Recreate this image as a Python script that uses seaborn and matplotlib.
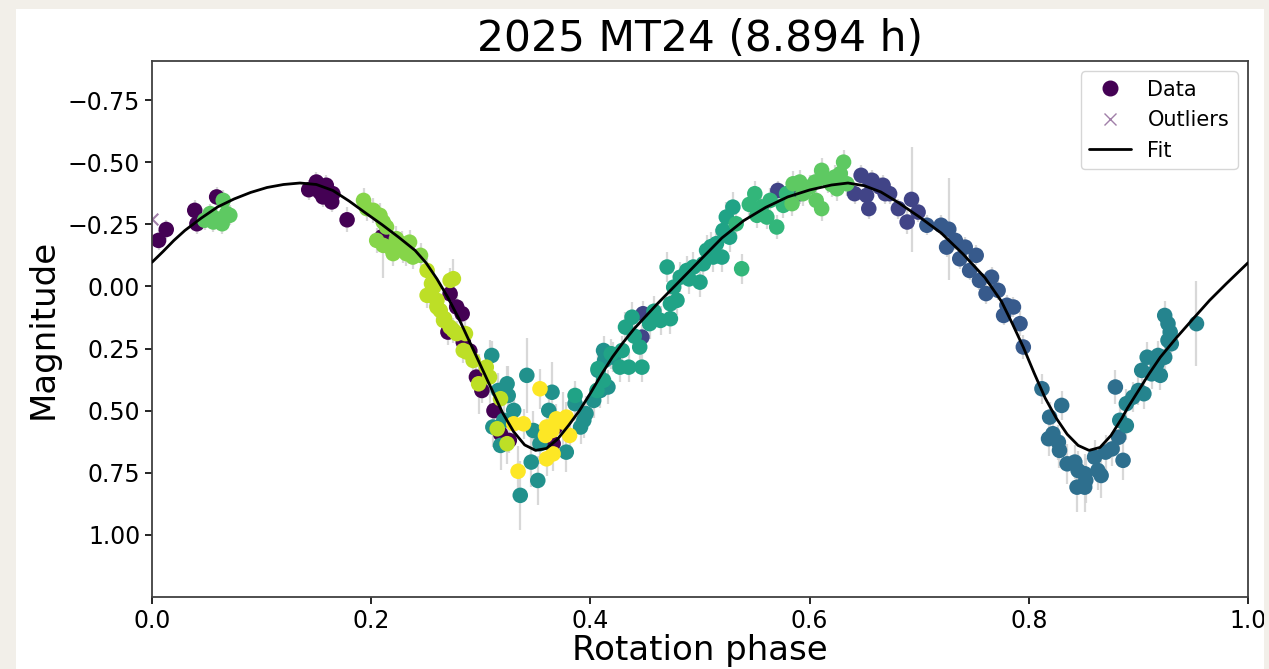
import numpy as np
import pandas as pd
import matplotlib
matplotlib.use("Agg")
import matplotlib.pyplot as plt
import seaborn as sns
from matplotlib.lines import Line2D
from matplotlib.patches import Rectangle

TITLE = "2025 MT24 (8.894 h)"
X_LABEL = "Rotation phase"
Y_LABEL = "Magnitude"
X_TICKS = [0.0, 0.2, 0.4, 0.6, 0.8, 1.0]
Y_TICKS = [-0.75, -0.50, -0.25, 0.00, 0.25, 0.50, 0.75, 1.00]

# (phase, magnitude, error) per observing session
night_a = [(0.006, -0.185, 0.04), (0.013, -0.229, 0.04), (0.039, -0.306, 0.04), (0.041, -0.252, 0.04),
           (0.059, -0.36, 0.04), (0.143, -0.389, 0.04), (0.150, -0.42, 0.04), (0.153, -0.38, 0.04),
           (0.156, -0.36, 0.04), (0.159, -0.407, 0.04), (0.164, -0.34, 0.04), (0.165, -0.373, 0.04),
           (0.178, -0.268, 0.05), (0.210, -0.20, 0.05), (0.270, 0.184, 0.05), (0.272, 0.03, 0.05),
           (0.278, 0.083, 0.05), (0.283, 0.11, 0.05), (0.284, 0.224, 0.05), (0.290, 0.26, 0.05),
           (0.296, 0.365, 0.05), (0.301, 0.419, 0.05), (0.312, 0.50, 0.05), (0.318, 0.593, 0.05),
           (0.326, 0.62, 0.05), (0.366, 0.633, 0.05), (0.368, 0.566, 0.05)]
night_b = [(0.447, 0.204, 0.05), (0.448, 0.11, 0.05), (0.571, -0.386, 0.04), (0.591, -0.373, 0.04),
           (0.641, -0.373, 0.04), (0.647, -0.447, 0.04), (0.652, -0.366, 0.04), (0.654, -0.313, 0.04),
           (0.655, -0.42, 0.04), (0.657, -0.427, 0.04), (0.664, -0.40, 0.04), (0.667, -0.407, 0.04),
           (0.669, -0.373, 0.04), (0.673, -0.373, 0.04), (0.681, -0.313, 0.04), (0.689, -0.259, 0.05),
           (0.693, -0.350, 0.21), (0.699, -0.299, 0.04)]
night_c = [(0.707, -0.246, 0.04), (0.720, -0.246, 0.04), (0.725, -0.158, 0.04), (0.727, -0.23, 0.205),
           (0.733, -0.185, 0.04), (0.737, -0.111, 0.04), (0.742, -0.158, 0.04), (0.746, -0.064, 0.04),
           (0.752, -0.125, 0.04), (0.755, -0.024, 0.04), (0.761, 0.029, 0.04), (0.766, -0.037, 0.04),
           (0.772, 0.016, 0.04), (0.777, 0.117, 0.04), (0.780, 0.076, 0.04), (0.786, 0.083, 0.04),
           (0.792, 0.150, 0.05), (0.795, 0.244, 0.05)]
night_d = [(0.812, 0.412, 0.06), (0.818, 0.613, 0.07), (0.819, 0.526, 0.06), (0.822, 0.593, 0.07),
           (0.827, 0.627, 0.07), (0.828, 0.66, 0.07), (0.830, 0.479, 0.06), (0.835, 0.714, 0.08),
           (0.842, 0.707, 0.07), (0.844, 0.808, 0.10), (0.845, 0.741, 0.08), (0.851, 0.754, 0.08),
           (0.851, 0.808, 0.10), (0.852, 0.781, 0.09), (0.860, 0.687, 0.07), (0.863, 0.741, 0.08),
           (0.866, 0.761, 0.09), (0.870, 0.667, 0.07), (0.876, 0.654, 0.07), (0.879, 0.405, 0.07),
           (0.882, 0.607, 0.06), (0.886, 0.70, 0.08)]
night_e = [(0.883, 0.539, 0.06), (0.889, 0.56, 0.06), (0.889, 0.472, 0.06), (0.895, 0.446, 0.06),
           (0.900, 0.419, 0.06), (0.903, 0.338, 0.06), (0.905, 0.432, 0.06), (0.908, 0.285, 0.06),
           (0.912, 0.352, 0.06), (0.917, 0.311, 0.06), (0.918, 0.278, 0.06), (0.920, 0.358, 0.06),
           (0.924, 0.285, 0.06), (0.924, 0.117, 0.06), (0.927, 0.217, 0.06), (0.927, 0.15, 0.06),
           (0.929, 0.184, 0.06), (0.930, 0.231, 0.06), (0.953, 0.15, 0.17)]
night_f = [(0.310, 0.278, 0.06), (0.311, 0.566, 0.08), (0.316, 0.419, 0.07), (0.318, 0.64, 0.10),
           (0.321, 0.539, 0.07), (0.324, 0.392, 0.07), (0.325, 0.439, 0.12), (0.330, 0.499, 0.08),
           (0.336, 0.841, 0.14), (0.342, 0.358, 0.15), (0.346, 0.707, 0.10), (0.348, 0.58, 0.08),
           (0.352, 0.781, 0.10), (0.354, 0.633, 0.08), (0.362, 0.499, 0.08), (0.365, 0.426, 0.12),
           (0.378, 0.667, 0.08), (0.386, 0.472, 0.07), (0.391, 0.566, 0.07), (0.394, 0.539, 0.07),
           (0.396, 0.512, 0.07), (0.403, 0.459, 0.07), (0.407, 0.338, 0.06), (0.409, 0.419, 0.07),
           (0.412, 0.258, 0.06), (0.413, 0.298, 0.06), (0.416, 0.405, 0.07), (0.421, 0.285, 0.06)]
night_g = [(0.386, 0.439, 0.06), (0.406, 0.419, 0.06), (0.407, 0.331, 0.06), (0.412, 0.378, 0.06),
           (0.419, 0.271, 0.06), (0.427, 0.325, 0.06), (0.429, 0.258, 0.06), (0.432, 0.164, 0.06),
           (0.435, 0.325, 0.06), (0.438, 0.124, 0.06), (0.440, 0.20, 0.06), (0.445, 0.244, 0.06),
           (0.447, 0.325, 0.06), (0.454, 0.15, 0.06), (0.458, 0.10, 0.06), (0.464, 0.137, 0.06),
           (0.470, -0.078, 0.06), (0.473, 0.13, 0.06), (0.473, 0.07, 0.06), (0.476, 0.003, 0.06),
           (0.479, 0.056, 0.06), (0.482, -0.037, 0.06), (0.488, -0.064, 0.06), (0.490, -0.03, 0.06),
           (0.494, -0.078, 0.06), (0.500, -0.017, 0.06), (0.503, -0.091, 0.06), (0.506, -0.145, 0.06),
           (0.510, -0.16, 0.06), (0.512, -0.118, 0.06), (0.515, -0.172, 0.06), (0.520, -0.118, 0.06),
           (0.521, -0.225, 0.06), (0.524, -0.279, 0.06), (0.527, -0.198, 0.06), (0.530, -0.319, 0.06)]
night_h = [(0.533, -0.252, 0.05), (0.538, -0.071, 0.06), (0.545, -0.33, 0.05), (0.550, -0.373, 0.05),
           (0.552, -0.286, 0.05), (0.556, -0.32, 0.05), (0.561, -0.279, 0.05), (0.564, -0.346, 0.05),
           (0.570, -0.239, 0.05), (0.576, -0.326, 0.05), (0.579, -0.373, 0.05)]
night_i = [(0.048, -0.266, 0.04), (0.053, -0.293, 0.04), (0.056, -0.259, 0.04), (0.059, -0.272, 0.04),
           (0.064, -0.252, 0.04), (0.065, -0.346, 0.04), (0.068, -0.293, 0.04), (0.071, -0.286, 0.04),
           (0.584, -0.333, 0.05), (0.585, -0.413, 0.05), (0.591, -0.42, 0.05), (0.594, -0.373, 0.05),
           (0.600, -0.40, 0.05), (0.605, -0.42, 0.05), (0.606, -0.346, 0.05), (0.611, -0.313, 0.05),
           (0.611, -0.467, 0.05), (0.617, -0.427, 0.05), (0.620, -0.41, 0.05), (0.623, -0.44, 0.05),
           (0.625, -0.393, 0.05), (0.628, -0.454, 0.05), (0.631, -0.50, 0.05), (0.634, -0.413, 0.05)]
night_j = [(0.193, -0.346, 0.05), (0.196, -0.313, 0.05), (0.202, -0.306, 0.05), (0.205, -0.185, 0.05),
           (0.208, -0.286, 0.05), (0.211, -0.165, 0.13), (0.211, -0.259, 0.05), (0.214, -0.239, 0.05),
           (0.217, -0.158, 0.05), (0.220, -0.132, 0.05), (0.223, -0.192, 0.05), (0.228, -0.172, 0.05),
           (0.229, -0.145, 0.05), (0.232, -0.132, 0.05), (0.235, -0.178, 0.05), (0.238, -0.118, 0.05),
           (0.245, -0.125, 0.05)]
night_k = [(0.251, -0.064, 0.05), (0.251, 0.036, 0.05), (0.254, 0.036, 0.05), (0.255, -0.011, 0.05),
           (0.257, 0.003, 0.05), (0.260, 0.056, 0.05), (0.260, 0.083, 0.05), (0.263, 0.097, 0.05),
           (0.266, 0.137, 0.05), (0.267, 0.13, 0.05), (0.272, -0.024, 0.05), (0.272, 0.164, 0.05),
           (0.275, -0.031, 0.08), (0.275, 0.177, 0.05), (0.278, 0.19, 0.05), (0.284, 0.258, 0.05),
           (0.286, 0.19, 0.05), (0.287, 0.264, 0.05), (0.293, 0.298, 0.05), (0.298, 0.392, 0.12),
           (0.305, 0.325, 0.05), (0.308, 0.365, 0.15), (0.315, 0.573, 0.08), (0.318, 0.452, 0.06),
           (0.324, 0.633, 0.08)]
night_l = [(0.330, 0.553, 0.06), (0.334, 0.744, 0.10), (0.339, 0.553, 0.06), (0.354, 0.412, 0.08),
           (0.359, 0.60, 0.06), (0.360, 0.566, 0.06), (0.360, 0.694, 0.07), (0.365, 0.58, 0.06),
           (0.366, 0.674, 0.07), (0.369, 0.533, 0.06), (0.375, 0.546, 0.12), (0.378, 0.526, 0.06),
           (0.381, 0.60, 0.06)]

nights = [night_a, night_b, night_c, night_d, night_e, night_f,
          night_g, night_h, night_i, night_j, night_k, night_l]
night_hues = [0.0, 0.2, 0.28, 0.36, 0.45, 0.5, 0.58, 0.66, 0.75, 0.82, 0.9, 1.0]

outlier_phase = [0.0]
outlier_mag = [-0.27]

fit_phase = [0.00, 0.01, 0.02, 0.03, 0.045, 0.06, 0.075, 0.09, 0.105, 0.12, 0.135, 0.15, 0.165,
             0.18, 0.195, 0.21, 0.225, 0.24, 0.25, 0.26, 0.27, 0.28, 0.29, 0.30, 0.31, 0.32, 0.33,
             0.34, 0.35, 0.36, 0.37, 0.38, 0.39, 0.40, 0.41, 0.42, 0.43, 0.44, 0.46, 0.48, 0.50,
             0.52, 0.54, 0.56, 0.58, 0.60, 0.62, 0.635, 0.65, 0.665, 0.68, 0.70, 0.72, 0.74, 0.76,
             0.775, 0.785, 0.795, 0.805, 0.815, 0.825, 0.835, 0.845, 0.855, 0.865, 0.875, 0.885,
             0.89, 0.90, 0.91, 0.92, 0.935, 0.95, 0.965, 0.98, 1.00]
fit_mag = [-0.097, -0.14, -0.185, -0.225, -0.275, -0.32, -0.352, -0.378, -0.398, -0.41, -0.416,
           -0.41, -0.386, -0.343, -0.295, -0.248, -0.198, -0.145, -0.095, -0.03, 0.045, 0.13,
           0.225, 0.32, 0.415, 0.51, 0.585, 0.638, 0.660, 0.652, 0.615, 0.56, 0.5, 0.43, 0.355,
           0.285, 0.225, 0.17, 0.075, -0.015, -0.105, -0.195, -0.265, -0.318, -0.36, -0.388,
           -0.408, -0.416, -0.405, -0.38, -0.34, -0.28, -0.215, -0.13, -0.035, 0.06, 0.15, 0.245,
           0.35, 0.45, 0.53, 0.595, 0.64, 0.66, 0.648, 0.6, 0.53, 0.49, 0.42, 0.35, 0.285,
           0.205, 0.13, 0.056, -0.01, -0.095]

rows = []
for hue, night in zip(night_hues, nights):
    for ph, mag, err in night:
        rows.append({"phase": ph, "mag": mag, "err": err, "night": hue})
df = pd.DataFrame(rows).sort_values("night", kind="stable").reset_index(drop=True)

sns.set_style("ticks")
plt.rcParams['font.family'] = ['DejaVu Sans']
plt.rcParams['axes.unicode_minus'] = True
for key in ['text.color', 'axes.labelcolor', 'xtick.color', 'ytick.color']:
    plt.rcParams[key] = 'black'

W, H = 1269, 669
BEIGE = '#f2efe9'
fig = plt.figure(figsize=(W / 100, H / 100), dpi=100, facecolor=BEIGE)
fig.add_artist(Rectangle((16 / W, 0), (1264 - 16) / W, (H - 9) / H, transform=fig.transFigure,
                         facecolor='white', edgecolor='none', zorder=-10))
ax = fig.add_axes([152 / W, 1 - 597 / H, (1248 - 152) / W, (597 - 61) / H])

ax.errorbar(df["phase"], df["mag"], yerr=df["err"], fmt='none', ecolor='#d4d4d4',
            elinewidth=1.6, alpha=0.9, zorder=1)
sns.scatterplot(data=df, x="phase", y="mag", hue="night", palette="viridis", hue_norm=(0, 1),
                s=125, linewidth=0, legend=False, ax=ax, zorder=2)
vir0 = plt.get_cmap('viridis')(0.0)
ax.scatter(outlier_phase, outlier_mag, marker='x', color=vir0, alpha=0.5, s=70, zorder=2)
sns.lineplot(x=fit_phase, y=fit_mag, color='black', linewidth=2.0, sort=False, estimator=None,
             ax=ax, zorder=3)

ax.set_xlim(0, 1)
ax.set_ylim(1.25, -0.907)
ax.set_xticks(X_TICKS)
ax.set_yticks(Y_TICKS)
ax.tick_params(labelsize=17, length=5, width=1.2, colors='black')
for sp in ax.spines.values():
    sp.set_linewidth(1.3)
    sp.set_color('0.25')
ax.set_title(TITLE, fontsize=30.5, pad=7)
ax.set_xlabel(X_LABEL, fontsize=24.5, labelpad=1.0)
ax.set_ylabel(Y_LABEL, fontsize=24.5, labelpad=6)

handles = [
    Line2D([], [], marker='o', ls='none', color=vir0, markersize=10.5, label='Data'),
    Line2D([], [], marker='x', ls='none', color=vir0, alpha=0.5, markersize=8, label='Outliers'),
    Line2D([], [], color='black', lw=2, label='Fit'),
]
ax.legend(handles=handles, loc='upper right', fontsize=15, frameon=True, framealpha=0.8,
          edgecolor='0.8', fancybox=True)

fig.add_artist(Rectangle((1264 / W, 0), 5 / W, 1, transform=fig.transFigure,
                         facecolor=BEIGE, edgecolor='none', zorder=20))
fig.savefig("out.png", dpi=100, facecolor=BEIGE)
